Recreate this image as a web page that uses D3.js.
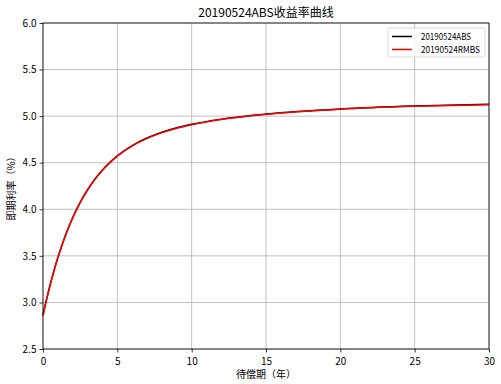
<!DOCTYPE html>
<html>
<head>
<meta charset="utf-8">
<script src="https://cdn.jsdelivr.net/npm/d3@7"></script>
<style>
  body { margin: 0; background: #fff; }
  svg { display: block; font-family: "Noto Sans CJK SC", "DejaVu Sans", sans-serif; }
</style>
</head>
<body>
<div id="chart"></div>
<script>
// years to maturity
const terms = [0, 0.25, 0.5, 0.75, 1, 1.5, 2, 2.5, 3, 3.5, 4, 4.5, 5, 6, 7, 8, 9, 10, 12, 15, 20, 25, 30];
// spot rate (%)
const absRates = [2.862, 3.040, 3.202, 3.349, 3.483, 3.717, 3.912, 4.075, 4.211, 4.326, 4.423, 4.504, 4.574, 4.684, 4.765, 4.827, 4.875, 4.912, 4.968, 5.023, 5.078, 5.109, 5.127];
const rmbsRates = [2.858, 3.036, 3.198, 3.345, 3.479, 3.713, 3.908, 4.071, 4.207, 4.322, 4.419, 4.500, 4.570, 4.680, 4.761, 4.823, 4.871, 4.908, 4.964, 5.019, 5.074, 5.105, 5.123];
const xTicks = [0, 5, 10, 15, 20, 25, 30];
const yTicks = [2.5, 3.0, 3.5, 4.0, 4.5, 5.0, 5.5, 6.0];
const seriesNames = ['20190524ABS', '20190524RMBS'];
const seriesColors = ['#000000', '#ff0000'];

const W = 501, H = 384;
const margin = { top: 23, right: 12, bottom: 35, left: 43 };
const width = W - margin.left - margin.right;
const height = H - margin.top - margin.bottom;

const svg = d3.select('#chart').append('svg')
  .attr('width', W)
  .attr('height', H);

const g = svg.append('g')
  .attr('transform', 'translate(' + margin.left + ',' + margin.top + ')');

const x = d3.scaleLinear().domain([0, 30]).range([0, width]);
const y = d3.scaleLinear().domain([2.5, 6.0]).range([height, 0]);

// grid
g.append('g')
  .selectAll('line')
  .data(xTicks)
  .join('line')
  .attr('x1', d => x(d)).attr('x2', d => x(d))
  .attr('y1', 0).attr('y2', height)
  .attr('stroke', '#b0b0b0').attr('stroke-width', 0.8);
g.append('g')
  .selectAll('line')
  .data(yTicks)
  .join('line')
  .attr('x1', 0).attr('x2', width)
  .attr('y1', d => y(d)).attr('y2', d => y(d))
  .attr('stroke', '#b0b0b0').attr('stroke-width', 0.8);

// lines
const line = d3.line()
  .x(d => x(d[0]))
  .y(d => y(d[1]))
  .curve(d3.curveMonotoneX);

[absRates, rmbsRates].forEach((vals, i) => {
  g.append('path')
    .datum(terms.map((t, j) => [t, vals[j]]))
    .attr('fill', 'none')
    .attr('stroke', seriesColors[i])
    .attr('stroke-width', 1.5)
    .attr('d', line);
});

// axes
const xAxis = g.append('g')
  .attr('transform', 'translate(0,' + height + ')')
  .call(d3.axisBottom(x).tickValues(xTicks).tickFormat(d3.format('d')).tickSize(3.5).tickSizeOuter(0));
const yAxis = g.append('g')
  .call(d3.axisLeft(y).tickValues(yTicks).tickFormat(d3.format('.1f')).tickSize(3.5).tickSizeOuter(0));
[xAxis, yAxis].forEach(a => {
  a.select('.domain').remove();
  a.selectAll('text').attr('font-size', 10).attr('fill', '#000')
    .attr('font-family', '"Noto Sans CJK SC", sans-serif');
  a.selectAll('line').attr('stroke', '#000').attr('stroke-width', 0.8);
});
xAxis.selectAll('text').attr('dy', '0.9em');

// frame
g.append('rect')
  .attr('width', width).attr('height', height)
  .attr('fill', 'none').attr('stroke', '#000').attr('stroke-width', 0.8);

// title and labels
svg.append('text')
  .attr('x', margin.left + width / 2)
  .attr('y', 17)
  .attr('text-anchor', 'middle')
  .attr('font-size', 12)
  .text('20190524ABS收益率曲线');
svg.append('text')
  .attr('x', margin.left + width / 2)
  .attr('y', 378)
  .attr('text-anchor', 'middle')
  .attr('font-size', 10)
  .text('待偿期（年）');
svg.append('text')
  .attr('transform', 'translate(15,' + (margin.top + height / 2) + ') rotate(-90)')
  .attr('text-anchor', 'middle')
  .attr('font-size', 10)
  .text('即期利率（%）');

// legend
const legendWidths = [50, 59];
const legend = svg.append('g').attr('transform', 'translate(388,28)');
legend.append('rect')
  .attr('width', 97).attr('height', 29)
  .attr('rx', 2)
  .attr('fill', '#fff').attr('fill-opacity', 0.8)
  .attr('stroke', '#d0d0d0').attr('stroke-width', 0.8);
seriesNames.forEach((name, i) => {
  const row = legend.append('g').attr('transform', 'translate(0,' + (8.5 + i * 13) + ')');
  row.append('line')
    .attr('x1', 4).attr('x2', 24)
    .attr('stroke', seriesColors[i]).attr('stroke-width', 1.5);
  row.append('text')
    .attr('x', 33).attr('y', 3.2)
    .attr('font-size', 9)
    .attr('textLength', legendWidths[i])
    .attr('lengthAdjust', 'spacingAndGlyphs')
    .text(name);
});
</script>
</body>
</html>
